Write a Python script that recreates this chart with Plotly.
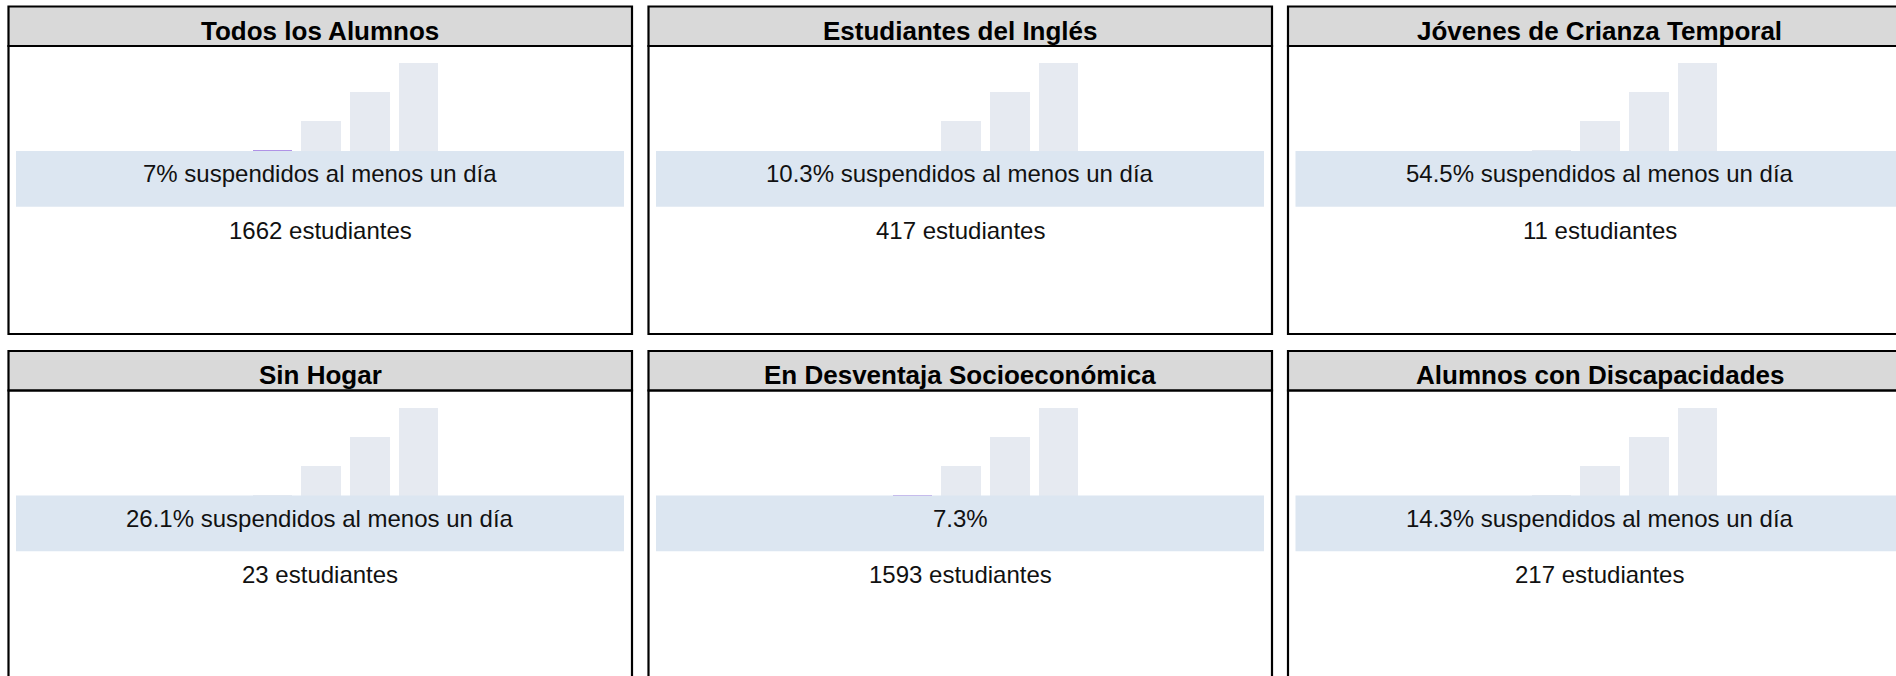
import plotly.graph_objects as go

# ---- data ----
titles = ["Todos los Alumnos", "Estudiantes del Inglés", "Jóvenes de Crianza Temporal",
          "Sin Hogar", "En Desventaja Socioeconómica", "Alumnos con Discapacidades"]
pct_values = [7, 10.3, 54.5, 26.1, 7.3, 14.3]
pct_suffix = [" suspendidos al menos un día", " suspendidos al menos un día",
              " suspendidos al menos un día", " suspendidos al menos un día",
              "", " suspendidos al menos un día"]
students = [1662, 417, 11, 23, 1593, 217]
gauge_levels = [0, 1, 2, 3]
gauge_heights = [1, 2, 3, 4]
# colour state of the first (lowest) gauge bar per panel
first_bar_state = ["active", "hidden", "idle", "idle", "active", "idle"]

# ---- style / geometry ----
W_FIG, H_FIG = 1896, 676
PANEL_LEFT = [8.5, 648.5, 1288]
PANEL_TOP = [6.5, 351]
PANEL_W = 623.5
PANEL_H = 327.5
HEADER_H = 39.5
BAR_BASE = 172.5      # px below panel top
BAR_UNIT = 29.0       # px per gauge unit
BAR_PITCH = 48.7
BAR0_CENTER = 263.5   # px from panel left
BAR_W = 39.5

HEADER_FILL = "#d9d9d9"
BAND_FILL = "#dce6f1"
BAR_FILL = "#e6eaf1"
ACTIVE_FILL = "#b093e6"
FONT = "Arial, Liberation Sans, sans-serif"

def px(x):
    return x / W_FIG

def py(y):
    return 1 - y / H_FIG

fig = go.Figure()
shapes = []
annotations = []

for i, title in enumerate(titles):
    r, c = divmod(i, 3)
    L = PANEL_LEFT[c]
    T = PANEL_TOP[r]
    R = L + PANEL_W
    B = T + PANEL_H
    Rv = min(R, W_FIG)

    # header
    shapes.append(dict(type="rect", xref="paper", yref="paper",
                       x0=px(L), x1=px(R), y0=py(T + HEADER_H), y1=py(T),
                       fillcolor=HEADER_FILL, line=dict(color="black", width=2.2),
                       layer="below"))
    # body border
    shapes.append(dict(type="rect", xref="paper", yref="paper",
                       x0=px(L), x1=px(R), y0=py(B), y1=py(T + HEADER_H),
                       fillcolor="rgba(0,0,0,0)", line=dict(color="black", width=2.2),
                       layer="above"))
    # band
    shapes.append(dict(type="rect", xref="paper", yref="paper",
                       x0=px(L + 7.5), x1=px(R - 8), y0=py(T + 200.2), y1=py(T + 144.5),
                       fillcolor=BAND_FILL, line=dict(width=0), layer="above"))

    # gauge bars
    ax_id = "" if i == 0 else str(i + 1)
    colors = [BAR_FILL] * len(gauge_levels)
    state = first_bar_state[i]
    if state == "active":
        colors[0] = ACTIVE_FILL
    elif state == "hidden":
        colors[0] = "rgba(0,0,0,0)"
    fig.add_trace(go.Bar(x=gauge_levels, y=gauge_heights, marker=dict(color=colors, line=dict(width=0)),
                         width=BAR_W / BAR_PITCH, xaxis="x" + ax_id, yaxis="y" + ax_id,
                         showlegend=False, hoverinfo="skip"))
    top_px = T + HEADER_H + 1
    fig.layout["xaxis" + ax_id] = dict(domain=[px(L), px(Rv)],
                                       range=[-BAR0_CENTER / BAR_PITCH, (Rv - L - BAR0_CENTER) / BAR_PITCH],
                                       visible=False, fixedrange=True, anchor="y" + ax_id)
    fig.layout["yaxis" + ax_id] = dict(domain=[py(T + BAR_BASE), py(top_px)],
                                       range=[0, (BAR_BASE - HEADER_H - 1) / BAR_UNIT],
                                       visible=False, fixedrange=True, anchor="x" + ax_id)

    cx = px((L + R) / 2)
    annotations.append(dict(xref="paper", yref="paper", x=cx, y=py(T + 24),
                            text="<b>" + title + "</b>", showarrow=False,
                            xanchor="center", yanchor="middle",
                            font=dict(family=FONT, size=26, color="black")))
    annotations.append(dict(xref="paper", yref="paper", x=cx, y=py(T + 167),
                            text=f"{pct_values[i]:g}%{pct_suffix[i]}", showarrow=False,
                            xanchor="center", yanchor="middle",
                            font=dict(family=FONT, size=24, color="#111111")))
    annotations.append(dict(xref="paper", yref="paper", x=cx, y=py(T + 223.5),
                            text=f"{students[i]} estudiantes", showarrow=False,
                            xanchor="center", yanchor="middle",
                            font=dict(family=FONT, size=24, color="#111111")))

fig.update_layout(width=W_FIG, height=H_FIG, margin=dict(l=0, r=0, t=0, b=0),
                  paper_bgcolor="white", plot_bgcolor="rgba(0,0,0,0)",
                  shapes=shapes, annotations=annotations, bargap=0, showlegend=False)

fig.write_html("out.html", config={"displayModeBar": False},
               post_script="document.body.style.margin='0px';document.body.style.overflow='hidden';")
